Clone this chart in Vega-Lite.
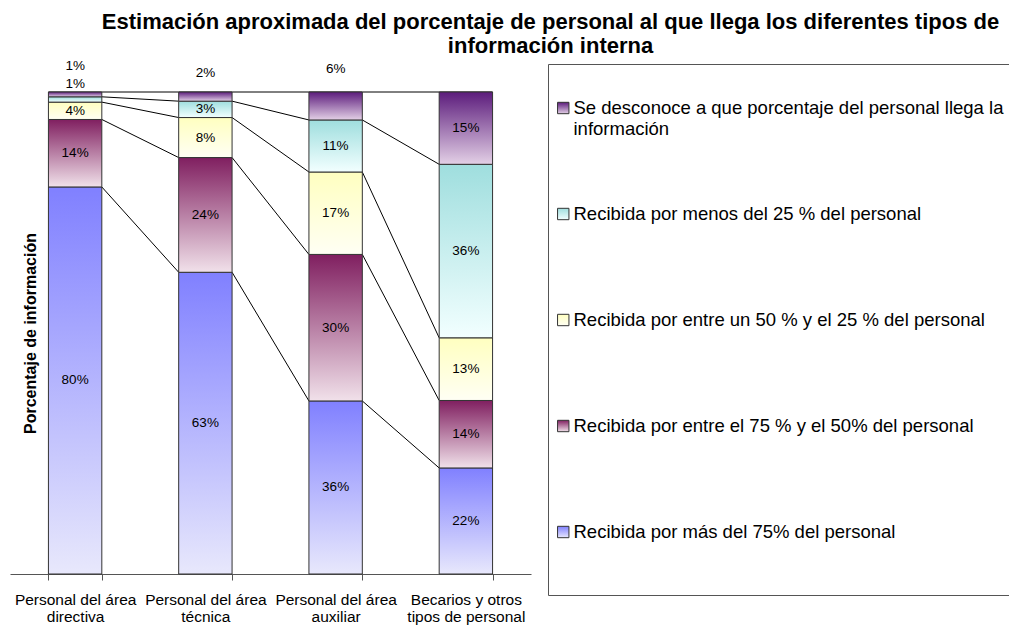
{
  "$schema": "https://vega.github.io/schema/vega-lite/v6.json",
  "autosize": {"type": "none"},
  "width": 521,
  "height": 482,
  "padding": {"left": 10, "top": 92, "right": 478, "bottom": 52},
  "background": "white",
  "view": {"stroke": null},
  "config": {
    "axisY": {
      "domain": false,
      "ticks": false,
      "labels": false,
      "grid": false,
      "titleFont": "Liberation Sans",
      "titleFontSize": 16,
      "titleFontWeight": "bold",
      "titleColor": "black",
      "titleAngle": -90,
      "titleX": 25,
      "titleY": 241,
      "titleAlign": "center",
      "titleBaseline": "alphabetic"
    }
  },
  "title": {
    "text": ["Estimación aproximada del porcentaje de personal al que llega los diferentes tipos de", "información interna"],
    "font": "Liberation Sans",
    "fontSize": 22,
    "fontWeight": "bold",
    "color": "black",
    "anchor": "middle",
    "frame": "group",
    "dx": 280,
    "lineHeight": 24,
    "offset": -8
  },
  "data": {
    "values": [
      {"categoria": "Personal del área directiva", "serie": "Recibida por más del 75% del personal", "nivel": 1, "valor": 0.803},
      {"categoria": "Personal del área directiva", "serie": "Recibida por entre el 75 % y el 50% del personal", "nivel": 2, "valor": 0.140},
      {"categoria": "Personal del área directiva", "serie": "Recibida por entre un 50 % y el 25 % del personal", "nivel": 3, "valor": 0.036},
      {"categoria": "Personal del área directiva", "serie": "Recibida por menos del 25 % del personal", "nivel": 4, "valor": 0.011},
      {"categoria": "Personal del área directiva", "serie": "Se desconoce a que porcentaje del personal llega la información", "nivel": 5, "valor": 0.010},
      {"categoria": "Personal del área técnica", "serie": "Recibida por más del 75% del personal", "nivel": 1, "valor": 0.626},
      {"categoria": "Personal del área técnica", "serie": "Recibida por entre el 75 % y el 50% del personal", "nivel": 2, "valor": 0.238},
      {"categoria": "Personal del área técnica", "serie": "Recibida por entre un 50 % y el 25 % del personal", "nivel": 3, "valor": 0.083},
      {"categoria": "Personal del área técnica", "serie": "Recibida por menos del 25 % del personal", "nivel": 4, "valor": 0.034},
      {"categoria": "Personal del área técnica", "serie": "Se desconoce a que porcentaje del personal llega la información", "nivel": 5, "valor": 0.019},
      {"categoria": "Personal del área auxiliar", "serie": "Recibida por más del 75% del personal", "nivel": 1, "valor": 0.359},
      {"categoria": "Personal del área auxiliar", "serie": "Recibida por entre el 75 % y el 50% del personal", "nivel": 2, "valor": 0.304},
      {"categoria": "Personal del área auxiliar", "serie": "Recibida por entre un 50 % y el 25 % del personal", "nivel": 3, "valor": 0.171},
      {"categoria": "Personal del área auxiliar", "serie": "Recibida por menos del 25 % del personal", "nivel": 4, "valor": 0.108},
      {"categoria": "Personal del área auxiliar", "serie": "Se desconoce a que porcentaje del personal llega la información", "nivel": 5, "valor": 0.058},
      {"categoria": "Becarios y otros tipos de personal", "serie": "Recibida por más del 75% del personal", "nivel": 1, "valor": 0.22},
      {"categoria": "Becarios y otros tipos de personal", "serie": "Recibida por entre el 75 % y el 50% del personal", "nivel": 2, "valor": 0.14},
      {"categoria": "Becarios y otros tipos de personal", "serie": "Recibida por entre un 50 % y el 25 % del personal", "nivel": 3, "valor": 0.13},
      {"categoria": "Becarios y otros tipos de personal", "serie": "Recibida por menos del 25 % del personal", "nivel": 4, "valor": 0.36},
      {"categoria": "Becarios y otros tipos de personal", "serie": "Se desconoce a que porcentaje del personal llega la información", "nivel": 5, "valor": 0.15}
    ]
  },
  "encoding": {
    "x": {
      "field": "categoria",
      "type": "nominal",
      "sort": ["Personal del área directiva", "Personal del área técnica", "Personal del área auxiliar", "Becarios y otros tipos de personal"],
      "scale": {"paddingInner": 0.59, "paddingOuter": 0.295},
      "axis": {
        "title": null,
        "labelAngle": 0,
        "labelFont": "Liberation Sans",
        "labelFontSize": 15.5,
        "labelColor": "black",
        "labelLineHeight": 17,
        "labelPadding": 12,
        "labelBaseline": "top",
        "labelLimit": 0,
        "labelExpr": "!datum.value ? '' : datum.value == 'Becarios y otros tipos de personal' ? ['Becarios y otros', 'tipos de personal'] : ['Personal del área', replace(datum.value, 'Personal del área ', '')]",
        "tickBand": "extent",
        "ticks": true,
        "tickSize": 6,
        "tickColor": "#555555",
        "domainColor": "#555555",
        "grid": false
      }
    }
  },
  "layer": [
    {
      "transform": [
        {"stack": "valor", "groupby": ["categoria"], "sort": [{"field": "nivel", "order": "ascending"}], "as": ["ini", "fin"]},
        {"joinaggregate": [{"op": "max", "field": "fin", "as": "finR"}], "groupby": ["categoria", "serie"]},
        {"fold": ["fin", "finR"], "as": ["borde", "acum"]}
      ],
      "mark": {"type": "line", "color": "black", "strokeWidth": 1},
      "encoding": {
        "x": {"value": {"expr": "scale('x', datum.categoria) + (datum.borde == 'finR' ? bandwidth('x') : 0)"}},
        "y": {"field": "acum", "type": "quantitative", "title": "Porcentaje de información", "scale": {"domain": [0, 1], "nice": false}},
        "detail": {"field": "serie", "type": "nominal"}
      }
    },
    {
      "mark": {"type": "bar", "stroke": "#333333", "strokeWidth": 1},
      "encoding": {
        "y": {
          "field": "valor",
          "type": "quantitative",
          "stack": "zero",
          "title": "Porcentaje de información",
          "scale": {"domain": [0, 1], "nice": false}
        },
        "color": {
          "field": "serie",
          "type": "nominal",
          "scale": {
            "domain": [
              "Se desconoce a que porcentaje del personal llega la información",
              "Recibida por menos del 25 % del personal",
              "Recibida por entre un 50 % y el 25 % del personal",
              "Recibida por entre el 75 % y el 50% del personal",
              "Recibida por más del 75% del personal"
            ],
            "range": [
              {"expr": "{gradient: 'linear', x1: 0, y1: 0, x2: 0, y2: 1, stops: [{offset: 0, color: '#5c1c7c'}, {offset: 1, color: '#e3d0e6'}]}"},
              {"expr": "{gradient: 'linear', x1: 0, y1: 0, x2: 0, y2: 1, stops: [{offset: 0, color: '#9fdede'}, {offset: 1, color: '#f2ffff'}]}"},
              {"expr": "{gradient: 'linear', x1: 0, y1: 0, x2: 0, y2: 1, stops: [{offset: 0, color: '#ffffc0'}, {offset: 1, color: '#fffff4'}]}"},
              {"expr": "{gradient: 'linear', x1: 0, y1: 0, x2: 0, y2: 1, stops: [{offset: 0, color: '#801f60'}, {offset: 1, color: '#f1e1ea'}]}"},
              {"expr": "{gradient: 'linear', x1: 0, y1: 0, x2: 0, y2: 1, stops: [{offset: 0, color: '#8080ff'}, {offset: 1, color: '#e8e8fc'}]}"}
            ]
          },
          "legend": {
            "title": " ",
            "titleOrient": "bottom",
            "titleFontSize": 10,
            "titlePadding": 9,
            "orient": "none",
            "legendX": 538,
            "legendY": -28,
            "padding": 9,
            "strokeColor": "#555555",
            "fillColor": "white",
            "symbolType": "square",
            "symbolSize": 130,
            "symbolOffset": -3,
            "symbolStrokeColor": "#333333",
            "symbolStrokeWidth": 1,
            "labelFont": "Liberation Sans",
            "labelFontSize": 18.5,
            "labelColor": "black",
            "labelLimit": 1000,
            "labelOffset": 1,
            "labelBaseline": "middle",
            "clipHeight": 70,
            "rowPadding": 36,
            "labelExpr": "datum.value == 'Se desconoce a que porcentaje del personal llega la información' ? ['Se desconoce a que porcentaje del personal llega la', 'información'] : datum.value"
          }
        },
        "order": {"field": "nivel", "type": "quantitative", "sort": "ascending"}
      }
    },
    {
      "mark": {"type": "text", "font": "Liberation Sans", "fontSize": 13.5, "color": "black"},
      "encoding": {
        "y": {"field": "valor", "type": "quantitative", "stack": "zero", "bandPosition": 0.5, "title": "Porcentaje de información", "scale": {"domain": [0, 1], "nice": false}},
        "detail": {"field": "serie", "type": "nominal"},
        "order": {"field": "nivel", "type": "quantitative", "sort": "ascending"},
        "text": {
          "condition": {"test": "!((datum.nivel == 5 && datum.categoria != 'Becarios y otros tipos de personal') || (datum.nivel == 4 && datum.categoria == 'Personal del área directiva'))", "field": "valor", "type": "quantitative", "format": ".0%"},
          "value": ""
        }
      }
    },
    {
      "mark": {"type": "text", "font": "Liberation Sans", "fontSize": 13.5, "color": "black", "dy": -28},
      "encoding": {
        "y": {"field": "valor", "type": "quantitative", "stack": "zero", "bandPosition": 0.5, "title": "Porcentaje de información", "scale": {"domain": [0, 1], "nice": false}},
        "detail": {"field": "serie", "type": "nominal"},
        "order": {"field": "nivel", "type": "quantitative", "sort": "ascending"},
        "text": {
          "condition": {"test": "datum.nivel == 5 && datum.categoria == 'Personal del área directiva'", "field": "valor", "type": "quantitative", "format": ".0%"},
          "value": ""
        }
      }
    },
    {
      "mark": {"type": "text", "font": "Liberation Sans", "fontSize": 13.5, "color": "black", "dy": -15},
      "encoding": {
        "y": {"field": "valor", "type": "quantitative", "stack": "zero", "bandPosition": 0.5, "title": "Porcentaje de información", "scale": {"domain": [0, 1], "nice": false}},
        "detail": {"field": "serie", "type": "nominal"},
        "order": {"field": "nivel", "type": "quantitative", "sort": "ascending"},
        "text": {
          "condition": {"test": "datum.nivel == 4 && datum.categoria == 'Personal del área directiva'", "field": "valor", "type": "quantitative", "format": ".0%"},
          "value": ""
        }
      }
    },
    {
      "mark": {"type": "text", "font": "Liberation Sans", "fontSize": 13.5, "color": "black", "dy": -24},
      "encoding": {
        "y": {"field": "valor", "type": "quantitative", "stack": "zero", "bandPosition": 0.5, "title": "Porcentaje de información", "scale": {"domain": [0, 1], "nice": false}},
        "detail": {"field": "serie", "type": "nominal"},
        "order": {"field": "nivel", "type": "quantitative", "sort": "ascending"},
        "text": {
          "condition": {"test": "datum.nivel == 5 && datum.categoria == 'Personal del área técnica'", "field": "valor", "type": "quantitative", "format": ".0%"},
          "value": ""
        }
      }
    },
    {
      "mark": {"type": "text", "font": "Liberation Sans", "fontSize": 13.5, "color": "black", "dy": -37},
      "encoding": {
        "y": {"field": "valor", "type": "quantitative", "stack": "zero", "bandPosition": 0.5, "title": "Porcentaje de información", "scale": {"domain": [0, 1], "nice": false}},
        "detail": {"field": "serie", "type": "nominal"},
        "order": {"field": "nivel", "type": "quantitative", "sort": "ascending"},
        "text": {
          "condition": {"test": "datum.nivel == 5 && datum.categoria == 'Personal del área auxiliar'", "field": "valor", "type": "quantitative", "format": ".0%"},
          "value": ""
        }
      }
    }
  ]
}
